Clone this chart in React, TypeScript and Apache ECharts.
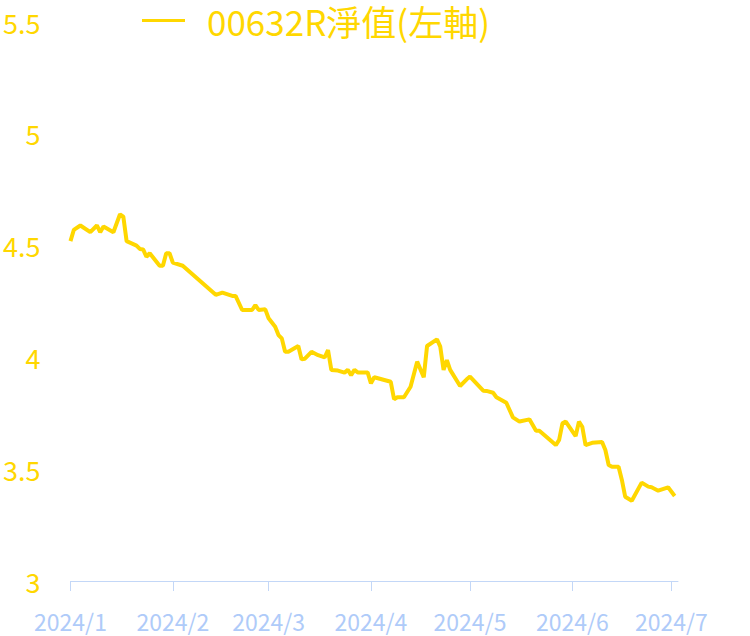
import React, { useEffect, useRef } from "react";
import * as echarts from "echarts";

const seriesName = "00632R淨值(左軸)";

const dates = [
  "2024-01-01", "2024-01-02", "2024-01-04", "2024-01-07", "2024-01-09", "2024-01-10", "2024-01-11",
  "2024-01-14", "2024-01-16", "2024-01-17", "2024-01-18", "2024-01-21", "2024-01-22", "2024-01-23",
  "2024-01-24", "2024-01-25", "2024-01-28", "2024-01-29", "2024-01-30", "2024-01-31", "2024-02-01",
  "2024-02-04", "2024-02-14", "2024-02-16", "2024-02-19", "2024-02-20", "2024-02-22", "2024-02-25",
  "2024-02-26", "2024-02-27", "2024-02-29", "2024-03-01", "2024-03-03", "2024-03-04", "2024-03-05",
  "2024-03-06", "2024-03-07", "2024-03-10", "2024-03-11", "2024-03-12", "2024-03-14", "2024-03-16",
  "2024-03-18", "2024-03-19", "2024-03-20", "2024-03-22", "2024-03-24", "2024-03-25", "2024-03-26",
  "2024-03-27", "2024-03-28", "2024-03-31", "2024-04-01", "2024-04-02", "2024-04-07", "2024-04-08",
  "2024-04-09", "2024-04-11", "2024-04-13", "2024-04-15", "2024-04-17", "2024-04-18", "2024-04-21",
  "2024-04-22", "2024-04-23", "2024-04-24", "2024-04-25", "2024-04-28", "2024-04-30", "2024-05-01",
  "2024-05-05", "2024-05-06", "2024-05-08", "2024-05-09", "2024-05-12", "2024-05-14", "2024-05-16",
  "2024-05-19", "2024-05-21", "2024-05-22", "2024-05-27", "2024-05-28", "2024-05-29", "2024-05-30",
  "2024-06-02", "2024-06-03", "2024-06-04", "2024-06-05", "2024-06-07", "2024-06-10", "2024-06-11",
  "2024-06-12", "2024-06-13", "2024-06-15", "2024-06-16", "2024-06-17", "2024-06-19", "2024-06-22",
  "2024-06-24", "2024-06-25", "2024-06-27", "2024-06-30", "2024-07-02",
];

const navValues = [
  4.52, 4.57, 4.59, 4.56, 4.59, 4.56, 4.585,
  4.56, 4.64, 4.63, 4.52, 4.50, 4.485, 4.483,
  4.45, 4.466, 4.41, 4.41, 4.466, 4.466, 4.424,
  4.41, 4.28, 4.29, 4.275, 4.275, 4.212, 4.212,
  4.234, 4.212, 4.215, 4.175, 4.137, 4.10, 4.085,
  4.025, 4.025, 4.051, 3.991, 3.994, 4.025, 4.01,
  4.0, 4.033, 3.944, 3.941, 3.932, 3.944, 3.921,
  3.944, 3.933, 3.933, 3.884, 3.911, 3.891, 3.813,
  3.822, 3.822, 3.869, 3.981, 3.911, 4.051, 4.081,
  4.048, 3.944, 3.988, 3.944, 3.872, 3.902, 3.914,
  3.851, 3.85, 3.842, 3.822, 3.797, 3.732, 3.713,
  3.723, 3.672, 3.672, 3.608, 3.631, 3.705, 3.713,
  3.648, 3.713, 3.69, 3.608, 3.618, 3.622, 3.586,
  3.519, 3.511, 3.511, 3.452, 3.377, 3.359, 3.44,
  3.422, 3.419, 3.404, 3.419, 3.38,
];

const yMin = 3;
const yMax = 5.5;
const yInterval = 0.5;
const xMin = "2024-01-01";
const xMax = "2024-07-03";

const GOLD = "#FFD700";
const BLUE_LABEL = "#AFCBF9";
const BLUE_AXIS = "#C3D7F7";
const FONT = "'Noto Sans CJK TC', 'Noto Sans', sans-serif";

export default function App() {
  const ref = useRef<HTMLDivElement>(null);

  useEffect(() => {
    document.body.style.margin = "0";
    const chart = echarts.init(ref.current!, null, { renderer: "svg" });
    chart.setOption({
      animation: false,
      backgroundColor: "#ffffff",
      grid: { left: 70, right: 72, top: 22, bottom: 55 },
      legend: {
        left: 142,
        top: 3,
        padding: 0,
        icon: "rect",
        itemWidth: 43,
        itemHeight: 3,
        data: [seriesName],
        textStyle: {
          color: GOLD,
          fontSize: 35,
          lineHeight: 32,
          fontFamily: FONT,
          padding: [0, 0, 0, 17],
        },
      },
      xAxis: {
        type: "time",
        min: xMin,
        max: xMax,
        splitNumber: 6,
        minInterval: 28 * 86400000,
        axisLine: { show: true, lineStyle: { color: BLUE_AXIS, width: 1 } },
        axisTick: { show: true, length: 10, lineStyle: { color: BLUE_AXIS } },
        splitLine: { show: false },
        axisLabel: {
          color: BLUE_LABEL,
          fontSize: 23,
          fontFamily: FONT,
          margin: 28,
          hideOverlap: false,
          formatter: (v: number) => {
            const d = new Date(v);
            return d.getFullYear() + "/" + (d.getMonth() + 1);
          },
        },
      },
      yAxis: {
        type: "value",
        min: yMin,
        max: yMax,
        interval: yInterval,
        axisLine: { show: false },
        axisTick: { show: false },
        splitLine: { show: false },
        axisLabel: {
          color: GOLD,
          fontSize: 27,
          fontFamily: FONT,
          margin: 30,
        },
      },
      series: [
        {
          name: seriesName,
          type: "line",
          data: dates.map((d, i) => [d, navValues[i]]),
          showSymbol: false,
          symbol: "none",
          lineStyle: { color: GOLD, width: 4 },
          itemStyle: { color: GOLD },
        },
      ],
    });
    return () => chart.dispose();
  }, []);

  return <div ref={ref} style={{ width: 750, height: 636 }} />;
}
